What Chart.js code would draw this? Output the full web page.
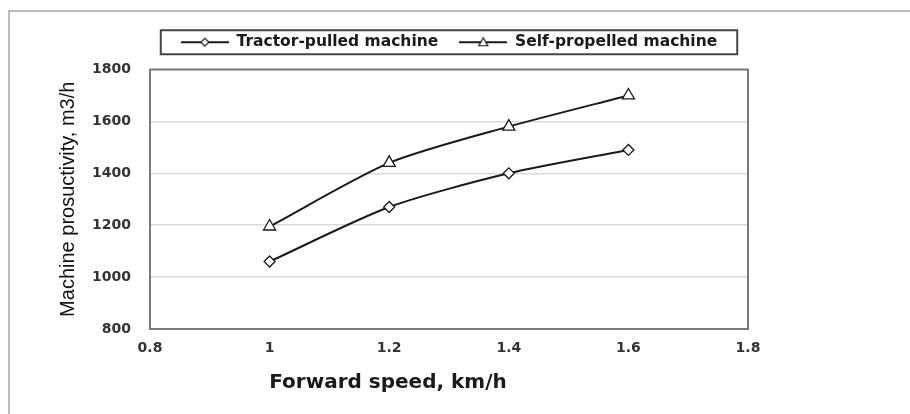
<!DOCTYPE html>
<html><head><meta charset="utf-8">
<script src="https://cdn.jsdelivr.net/npm/chart.js@4"></script>
<style>html,body{margin:0;padding:0;background:#fff}#wrap{width:910px;height:414px;position:relative}</style>
</head><body><div id="wrap"><canvas id="c" width="910" height="414"></canvas></div>
<script>
const speeds = [1, 1.2, 1.4, 1.6];
const tractorPulled = [1060, 1270, 1400, 1490];
const selfPropelled = [1195, 1440, 1580, 1700];
const xTicks = [0.8, 1, 1.2, 1.4, 1.6, 1.8];
const yTicks = [800, 1000, 1200, 1400, 1600, 1800];
const seriesNames = ['Tractor-pulled machine', 'Self-propelled machine'];
const xTitle = 'Forward speed, km/h';
const yTitle = 'Machine prosuctivity, m3/h';

function legendIcon(kind) {
  const c = document.createElement('canvas');
  c.width = 48; c.height = 12;
  const g = c.getContext('2d');
  g.strokeStyle = '#1a1a1a'; g.lineWidth = 2;
  g.beginPath(); g.moveTo(0, 6); g.lineTo(48, 6); g.stroke();
  g.beginPath();
  if (kind === 'd') { g.moveTo(24, 2); g.lineTo(28, 6); g.lineTo(24, 10); g.lineTo(20, 6); }
  else { g.moveTo(24, 1.5); g.lineTo(28.5, 9.5); g.lineTo(19.5, 9.5); }
  g.closePath(); g.fillStyle = '#fff'; g.fill(); g.lineWidth = 1.2; g.stroke();
  return c;
}
const icons = [legendIcon('d'), legendIcon('t')];

const framePlugin = {
  id: 'frame',
  afterLayout(chart) {
    const lg = chart.legend;
    if (lg) { lg.left += 47; lg.right += 47; }
  },
  beforeDraw(chart) {
    const g = chart.ctx;
    g.save(); g.strokeStyle = '#a6a6a6'; g.lineWidth = 1.5;
    g.beginPath(); g.moveTo(9, 414); g.lineTo(9, 11); g.lineTo(910, 11); g.stroke();
    g.restore();
  },
  afterDraw(chart) {
    const g = chart.ctx, a = chart.chartArea;
    g.save();
    g.strokeStyle = '#7a7a7a'; g.lineWidth = 2;
    g.strokeRect(a.left, a.top, a.right - a.left, a.bottom - a.top);
    const hb = chart.legend.legendHitBoxes;
    if (hb && hb.length) {
      const l = Math.min(...hb.map(h => h.left)) - 20;
      const r = Math.max(...hb.map(h => h.left + h.width)) + 20;
      const cy = hb[0].top + hb[0].height / 2;
      g.strokeStyle = '#444'; g.lineWidth = 2;
      g.strokeRect(l, cy - 12, r - l, 24);
    }
    g.fillStyle = '#1a1a1a';
    g.font = 'bold 20px "DejaVu Sans"';
    g.textAlign = 'center'; g.textBaseline = 'middle';
    g.fillText(xTitle, (a.left + a.right) / 2 - 61, 383);
    g.restore();
  }
};

new Chart(document.getElementById('c'), {
  type: 'line',
  data: {
    datasets: [
      { label: seriesNames[0], data: speeds.map((x, i) => ({ x, y: tractorPulled[i] })),
        borderColor: '#1a1a1a', borderWidth: 2, tension: 0.25,
        pointStyle: 'rectRot', pointRadius: 5.5, pointBackgroundColor: '#fff', pointBorderColor: '#1a1a1a', pointBorderWidth: 1.3 },
      { label: seriesNames[1], data: speeds.map((x, i) => ({ x, y: selfPropelled[i] })),
        borderColor: '#1a1a1a', borderWidth: 2, tension: 0.25,
        pointStyle: 'triangle', pointRadius: 7, pointBackgroundColor: '#fff', pointBorderColor: '#1a1a1a', pointBorderWidth: 1.3 }
    ]
  },
  options: {
    responsive: false, animation: false, devicePixelRatio: 1,
    layout: { padding: { left: 56, right: 162, top: 13.5, bottom: 0 } },
    plugins: {
      tooltip: { enabled: false },
      legend: {
        position: 'top',
        labels: {
          usePointStyle: true, pointStyleWidth: 48, padding: 21,
          color: '#1a1a1a', font: { family: 'DejaVu Sans', weight: 'bold', size: 15.5 },
          generateLabels(chart) {
            const items = Chart.defaults.plugins.legend.labels.generateLabels(chart);
            items.forEach((it, i) => { it.pointStyle = icons[i]; });
            return items;
          }
        }
      }
    },
    scales: {
      x: {
        type: 'linear', min: 0.8, max: 1.8,
        afterBuildTicks(s) { s.ticks = xTicks.map(v => ({ value: v })); },
        afterFit(s) { s.height = 85; },
        grid: { display: false, drawTicks: false },
        border: { display: false },
        ticks: { padding: 11, color: '#333', font: { family: 'DejaVu Sans', weight: 'bold', size: 14 },
          callback: v => String(Number(v.toFixed(1))) }
      },
      xSpacer: {
        type: 'linear', position: 'top', min: 0.8, max: 1.8,
        afterFit(s) { s.height = 9.5; },
        grid: { display: false, drawTicks: false },
        border: { display: false },
        ticks: { display: false }
      },
      y: {
        min: 800, max: 1800,
        afterBuildTicks(s) { s.ticks = yTicks.map(v => ({ value: v })); },
        afterFit(s) { s.width = 94; },
        grid: { color: '#d9d9d9', lineWidth: 1.5, drawTicks: false },
        border: { display: false },
        ticks: { padding: 19, color: '#333', font: { family: 'DejaVu Sans', weight: 'bold', size: 14 },
          callback: v => String(v) },
        title: { display: true, text: yTitle, color: '#111', padding: 0,
          font: { family: '"Liberation Sans"', size: 20 } }
      }
    }
  },
  plugins: [framePlugin]
});
</script></body></html>
